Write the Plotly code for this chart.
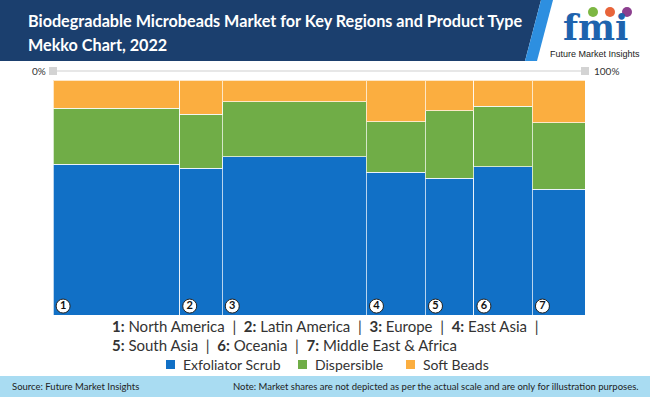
import plotly.graph_objects as go

regions = ["North America", "Latin America", "Europe", "East Asia", "South Asia", "Oceania", "Middle East & Africa"]
region_ids = ["1", "2", "3", "4", "5", "6", "7"]
widths = [23.8, 8.0, 27.1, 11.1, 9.1, 11.0, 9.9]
exfoliator = [64.1, 62.4, 67.4, 60.7, 58.2, 63.1, 53.5]
dispersible = [23.8, 23.0, 23.4, 21.5, 28.8, 25.8, 28.3]
soft_beads = [12.1, 14.6, 9.2, 17.8, 13.0, 11.1, 18.2]

series_names = ["Exfoliator Scrub", "Dispersible", "Soft Beads"]
series_vals = [exfoliator, dispersible, soft_beads]
series_colors = ["#1170C6", "#70AD47", "#FBAE40"]

FONT = "Lato"

lefts = []
acc = 0
for w in widths:
    lefts.append(acc)
    acc += w
mids = [l + w / 2 for l, w in zip(lefts, widths)]

W, H = 650, 397
L, R, T, B = 53, 65, 80, 82
pw, ph = W - L - R, H - T - B
def fx(px):
    return (px - L) / pw
def fy(py):
    return (H - B - py) / ph

fig = go.Figure()
for name, vals, col in zip(series_names, series_vals, series_colors):
    fig.add_trace(go.Bar(
        x=mids, y=vals, width=widths, name=name,
        marker=dict(color=col, line=dict(color="rgba(255,255,255,0.7)", width=1)),
        hoverinfo="skip", showlegend=False,
    ))

fig.add_trace(go.Scatter(
    x=[l + 1.9 for l in lefts], y=[3.8] * len(lefts),
    mode="markers+text", text=["<b>%s</b>" % r for r in region_ids],
    textposition="middle center",
    textfont=dict(family=FONT, size=11, color="#111"),
    marker=dict(size=14, color="white", line=dict(color="#222", width=1)),
    showlegend=False, hoverinfo="skip", cliponaxis=False,
))

fig.update_layout(
    width=W, height=H,
    margin=dict(l=L, r=R, t=T, b=B, autoexpand=False),
    barmode="stack", bargap=0,
    paper_bgcolor="white", plot_bgcolor="white",
    xaxis=dict(range=[0, 100], visible=False, fixedrange=True),
    yaxis=dict(range=[0, 100], visible=False, fixedrange=True),
    font=dict(family=FONT, color="#222"),
    showlegend=False,
)

shapes = []
shapes.append(dict(type="path", xref="paper", yref="paper", layer="above",
                   path="M%f,%f L%f,%f L%f,%f L%f,%f Z" % (fx(0), fy(0), fx(541), fy(0), fx(525), fy(61), fx(0), fy(61)),
                   fillcolor="#1B3F6E", line=dict(width=0)))
shapes.append(dict(type="path", xref="paper", yref="paper", layer="above",
                   path="M%f,%f L%f,%f L%f,%f L%f,%f Z" % (fx(541), fy(0), fx(553), fy(0), fx(537), fy(61), fx(525), fy(61)),
                   fillcolor="#2D8FE0", line=dict(width=0)))
shapes.append(dict(type="rect", xref="paper", yref="paper", layer="above",
                   x0=fx(0), x1=fx(650), y0=fy(376), y1=fy(397),
                   fillcolor="#A9DCF2", line=dict(width=0)))
shapes.append(dict(type="line", xref="paper", yref="paper",
                   x0=0, x1=1, y0=fy(71), y1=fy(71), line=dict(color="#CFCFCF", width=1)))
for xx in (0, 1):
    shapes.append(dict(type="rect", xref="paper", yref="paper",
                       x0=xx - 4 / pw, x1=xx + 4 / pw, y0=fy(75), y1=fy(67),
                       fillcolor="#D3D3D3", line=dict(width=0)))
for cx, col in ((593, "#7DB743"), (610, "#E8643A"), (627, "#8C3F8F")):
    shapes.append(dict(type="circle", xref="paper", yref="paper",
                       x0=fx(cx - 5), x1=fx(cx + 5), y0=fy(17), y1=fy(7),
                       fillcolor=col, line=dict(width=0)))

ann = []
leg_sq = [166, 298, 406]
for sx, name, col in zip(leg_sq, series_names, series_colors):
    shapes.append(dict(type="rect", xref="paper", yref="paper",
                       x0=fx(sx), x1=fx(sx + 9), y0=fy(369), y1=fy(360),
                       fillcolor=col, line=dict(width=0)))
    ann.append(dict(text=name, x=fx(sx + 15), y=fy(364.5), xref="paper", yref="paper",
                    xanchor="left", yanchor="middle", showarrow=False,
                    font=dict(family=FONT, size=14, color="#333")))
fig.update_layout(shapes=shapes)

ann.append(dict(text="<b>Biodegradable Microbeads Market for Key Regions and Product Type</b>",
                x=fx(26), y=fy(20), xref="paper", yref="paper", xanchor="left", yanchor="middle",
                showarrow=False, font=dict(family=FONT, size=16.2, color="white")))
ann.append(dict(text="<b>Mekko Chart, 2022</b>",
                x=fx(26), y=fy(44), xref="paper", yref="paper", xanchor="left", yanchor="middle",
                showarrow=False, font=dict(family=FONT, size=16.2, color="white")))
ann.append(dict(text="<b>fmi</b>", x=fx(595), y=fy(27), xref="paper", yref="paper",
                xanchor="center", yanchor="middle", showarrow=False,
                font=dict(family="DejaVu Serif", size=35, color="#1E63AE")))
ann.append(dict(text="Future Market Insights", x=fx(595), y=fy(54.5), xref="paper", yref="paper",
                xanchor="center", yanchor="middle", showarrow=False,
                font=dict(family="Liberation Sans", size=9, color="#222")))
ann.append(dict(text="0%", x=fx(48), y=fy(71), xref="paper", yref="paper", xanchor="right",
                yanchor="middle", showarrow=False, font=dict(family=FONT, size=10, color="#333")))
ann.append(dict(text="100%", x=fx(592), y=fy(71), xref="paper", yref="paper", xanchor="left",
                yanchor="middle", showarrow=False, font=dict(family=FONT, size=10, color="#333")))
parts = ["<b>%s:</b> %s" % (i, r) for i, r in zip(region_ids, regions)]
line1 = "  |  ".join(parts[:4]) + "  |"
line2 = "  |  ".join(parts[4:])
ann.append(dict(text=line1, x=fx(110), y=fy(326), xref="paper", yref="paper", xanchor="left",
                yanchor="middle", showarrow=False, font=dict(family=FONT, size=15, color="#333")))
ann.append(dict(text=line2, x=fx(110), y=fy(345), xref="paper", yref="paper", xanchor="left",
                yanchor="middle", showarrow=False, font=dict(family=FONT, size=15, color="#333")))
ann.append(dict(text="Source: Future Market Insights", x=fx(10), y=fy(386), xref="paper", yref="paper",
                xanchor="left", yanchor="middle", showarrow=False,
                font=dict(family=FONT, size=9.5, color="#222")))
ann.append(dict(text="Note: Market shares are not depicted as per the actual scale and are only for illustration purposes.",
                x=fx(641), y=fy(386), xref="paper", yref="paper",
                xanchor="right", yanchor="middle", showarrow=False,
                font=dict(family=FONT, size=9.5, color="#222")))
fig.update_layout(annotations=ann)

fig.write_html("out.html", config={"displayModeBar": False, "staticPlot": True},
               post_script="document.body.style.margin='0';document.body.style.overflow='hidden';")
